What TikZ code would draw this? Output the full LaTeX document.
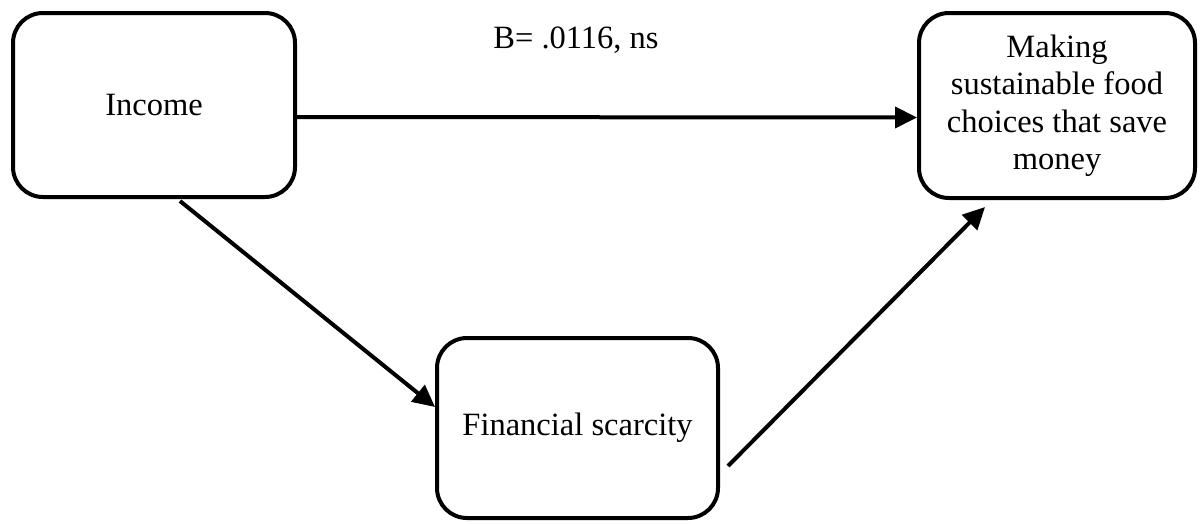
\documentclass[tikz,border=0pt]{standalone}
\usepackage{fontspec}
\setmainfont{Liberation Serif}
\usetikzlibrary{arrows.meta}
\begin{document}
\begin{tikzpicture}[x=1pt,y=-1pt,
  box/.style={draw=black, line width=4pt, rounded corners=30pt, rectangle, align=center,
    inner sep=0pt, font=\fontsize{32.5}{37.5}\selectfont},
  conn/.style={line width=4pt, -{Triangle[length=22pt,width=21pt]}},
  lbl/.style={font=\fontsize{32.5}{37.5}\selectfont, inner sep=0pt}]
\useasboundingbox[fill=white] (0,0) rectangle (1201,523);
\node[box, minimum width=282pt, minimum height=184pt] (income) at (154,105) {Income};
\node[box, minimum width=276pt, minimum height=185pt] (making) at (1057,105.5)
  {Making\\sustainable food\\choices that save\\money};
\node[box, minimum width=281pt, minimum height=180pt] (fin) at (577.5,428) {Financial scarcity};
\draw[conn] ([yshift=-12pt]income.east) -- ([yshift=-12pt]making.west);
\draw[conn] ([xshift=26pt,yshift=-2pt]income.south) -- ([yshift=21pt]fin.west);
\draw[conn] ([xshift=8pt,yshift=-38pt]fin.east) -- ([xshift=-72pt,yshift=-7pt]making.south);
\node[lbl, anchor=base] (b) at (576,48) {B= .0116, ns};
\end{tikzpicture}
\end{document}
